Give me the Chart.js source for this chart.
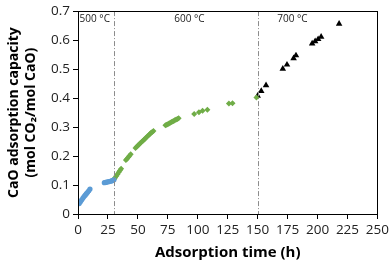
<!DOCTYPE html>
<html>
<head>
<meta charset="utf-8">
<script src="https://cdn.jsdelivr.net/npm/chart.js@4.4.0/dist/chart.umd.min.js"></script>
<style>
  html, body { margin: 0; padding: 0; background: #fff; }
  #wrap { width: 392px; height: 263px; }
</style>
</head>
<body>
<div id="wrap"><canvas id="chart"></canvas></div>
<script>
// time (h) / capacity (mol CO2 / mol CaO)
const t500 = [1, 2, 3, 4, 5, 6, 7, 8, 9, 10, 22, 23, 24, 25, 26, 27, 28, 29, 30];
const cap500 = [0.036, 0.042, 0.048, 0.054, 0.060, 0.065, 0.070, 0.075, 0.080, 0.086,
                0.108, 0.109, 0.110, 0.111, 0.112, 0.113, 0.114, 0.116, 0.118];

const t600 = [30, 31, 32, 33, 34, 35, 36, 40, 41, 42, 43, 44,
              48, 49, 50, 51, 52, 53, 54, 55, 56, 57, 58, 59, 60, 61, 62, 63,
              73, 74, 75, 76, 77, 78, 79, 80, 81, 82, 83, 84,
              97, 101, 104, 108, 126, 129, 149];
const cap600 = [0.120, 0.125, 0.131, 0.137, 0.144, 0.150, 0.156, 0.186, 0.191, 0.196, 0.201, 0.206,
                0.228, 0.232, 0.236, 0.240, 0.244, 0.248, 0.252, 0.256, 0.260, 0.264, 0.268, 0.272, 0.276, 0.280, 0.283, 0.286,
                0.306, 0.308, 0.310, 0.312, 0.315, 0.317, 0.319, 0.321, 0.324, 0.326, 0.328, 0.330,
                0.345, 0.351, 0.356, 0.360, 0.381, 0.382, 0.402];

const t700 = [150, 153, 157, 171, 174.5, 180, 182, 195.5, 198, 200.5, 203, 218];
const cap700 = [0.408, 0.424, 0.444, 0.501, 0.515, 0.537, 0.547, 0.588, 0.596, 0.603, 0.611, 0.656];

// temperature change marks and zone labels
const switchTimes = [30, 150];
const zoneLabels = ['500 °C', '600 °C', '700 °C'];
const zoneLabelX = [14, 93, 179];
const zoneLabelY = 0.671;

const xTicks = { min: 0, max: 250, step: 25 };
const yTicks = { min: 0, max: 0.7, step: 0.1 };

const FONT = '"Open Sans", "Liberation Sans", sans-serif';

function pts(xs, ys) {
  return xs.map((x, i) => ({ x: x, y: ys[i] }));
}

const overlay = {
  id: 'overlay',
  afterDraw(chart) {
    const ctx = chart.ctx;
    const a = chart.chartArea;
    const xs = chart.scales.x, ys = chart.scales.y;
    ctx.save();
    // dash-dot lines where the temperature was changed
    ctx.strokeStyle = '#8c8c8c';
    ctx.lineWidth = 1;
    ctx.setLineDash([5, 2, 1, 2]);
    switchTimes.forEach(v => {
      const px = Math.round(xs.getPixelForValue(v)) + 0.5;
      ctx.beginPath();
      ctx.moveTo(px, a.top);
      ctx.lineTo(px, a.bottom);
      ctx.stroke();
    });
    ctx.setLineDash([]);
    // plot box
    ctx.strokeStyle = '#000';
    ctx.strokeRect(Math.round(a.left) + 0.5, Math.round(a.top) + 0.5,
                   Math.round(a.right - a.left), Math.round(a.bottom - a.top));
    // zone labels
    ctx.fillStyle = '#222';
    ctx.font = '10px ' + FONT;
    ctx.textAlign = 'center';
    ctx.textBaseline = 'middle';
    zoneLabels.forEach((s, i) => {
      ctx.fillText(s, xs.getPixelForValue(zoneLabelX[i]), ys.getPixelForValue(zoneLabelY));
    });
    ctx.restore();
  }
};

new Chart(document.getElementById('chart'), {
  type: 'scatter',
  data: {
    datasets: [
      { label: '500', data: pts(t500, cap500), pointStyle: 'circle', pointRadius: 2.6,
        backgroundColor: '#5b9bd5', borderColor: '#5b9bd5', borderWidth: 0 },
      { label: '600', data: pts(t600, cap600), pointStyle: 'rectRot', pointRadius: 3,
        backgroundColor: '#70ad47', borderColor: '#70ad47', borderWidth: 0 },
      { label: '700', data: pts(t700, cap700), pointStyle: 'triangle', pointRadius: 3.8,
        backgroundColor: '#000', borderColor: '#000', borderWidth: 0 }
    ]
  },
  options: {
    responsive: true,
    maintainAspectRatio: false,
    animation: false,
    events: [],
    layout: { padding: { top: 8, right: 14, left: 0, bottom: 0 } },
    plugins: { legend: { display: false }, tooltip: { enabled: false } },
    scales: {
      x: {
        type: 'linear',
        min: xTicks.min, max: xTicks.max,
        afterFit(s) { s.height = 49; },
        ticks: { stepSize: xTicks.step, color: '#222', padding: 3,
                 font: { family: FONT, size: 13.5 } },
        grid: { drawOnChartArea: false, tickLength: 5, color: '#000', tickColor: '#000' },
        border: { color: '#000' },
        title: { display: true, text: 'Adsorption time (h)', color: '#000',
                 padding: { top: 0, bottom: 1 },
                 font: { family: FONT, size: 15, weight: 'bold' } }
      },
      y: {
        type: 'linear',
        min: yTicks.min, max: yTicks.max,
        afterFit(s) { s.width = 78; },
        ticks: { stepSize: yTicks.step, color: '#222', padding: 3,
                 callback: v => +v.toFixed(1),
                 font: { family: FONT, size: 13.5 } },
        grid: { drawOnChartArea: false, tickLength: 5, color: '#000', tickColor: '#000' },
        border: { color: '#000' },
        title: { display: true, text: ['CaO adsorption capacity', '(mol CO\u2082/mol CaO)'],
                 color: '#000', padding: { top: 6, bottom: 0 },
                 font: { family: FONT, size: 14, weight: 'bold', lineHeight: 1.2 } }
      }
    }
  },
  plugins: [overlay]
});
</script>
</body>
</html>
